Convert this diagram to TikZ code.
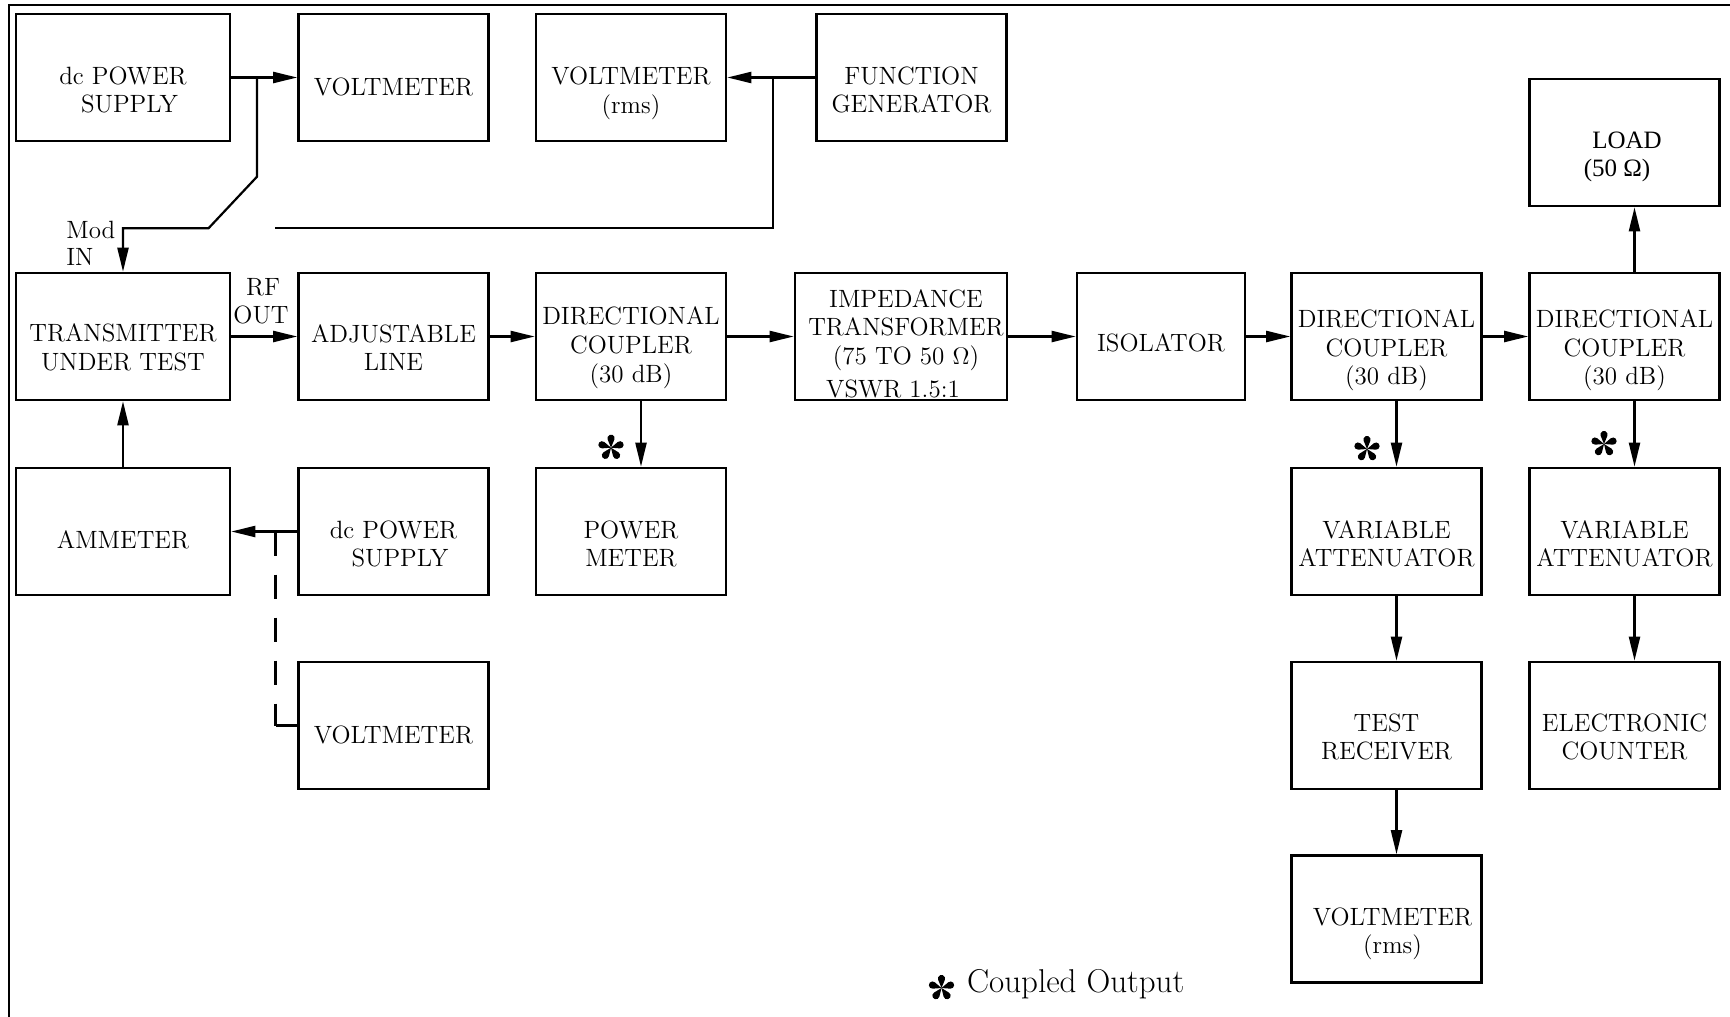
\documentclass[tikz,border=0pt]{standalone}
\usepackage{fontspec}
\newfontfamily\timesfont{Liberation Serif}
\usetikzlibrary{arrows.meta}

\tikzset{
  box/.style={draw, line width=1.3pt, minimum height=63.5pt, minimum width=95pt, inner sep=0pt},
  wide/.style={minimum width=107pt},
  lbl/.style={align=center, inner sep=0pt, font=\fontsize{12.5}{14.3}\selectfont},
  wire/.style={line width=1.1pt},
  arr/.style={wire, -{Triangle[length=12pt,width=5.5pt]}},
  dashwire/.style={wire, dash pattern=on 12pt off 9.5pt},
  frame/.style={line width=1pt},
  % coupled-output mark: five teardrop petals
  cstar/.pic={
    \foreach \a in {90,162,234,306,18}
      \fill[rotate=\a] (0,0) -- (4.07pt,-1.67pt)
        arc[start angle=-112.3, end angle=112.3, radius=1.8pt] -- cycle;
  }
}

\begin{document}
\begin{tikzpicture}[x=0.5pt,y=-0.5pt]
\useasboundingbox (0,0) rectangle (1730,1017);
\draw[frame] (8.7,1017) -- (8.7,5) -- (1730,5);

% ---- top row
\node[box, wide] (ps1) at (123,77.5) {};
\node[lbl] (ps1-t) at ([yshift=-6.25pt]ps1.center) {dc POWER\\\hspace*{6.5pt}SUPPLY};
\node[box] (vm1) at (393.5,77.5) {};
\node[lbl] (vm1-t) at ([yshift=-4.85pt]vm1.center) {VOLTMETER};
\node[box] (vrms) at (631,77.5) {};
\node[lbl] (vrms-t) at ([yshift=-8pt]vrms.center) {VOLTMETER\\(rms)};
\node[box] (fg) at (911.5,77.5) {};
\node[lbl] (fg-t) at ([yshift=-6.25pt]fg.center) {FUNCTION\\GENERATOR};
\node[box] (load) at (1624.5,142.5) {};
\node[lbl, font=\timesfont\fontsize{12.5}{14.3}\selectfont] (load-t) at ([xshift=-2.5pt,yshift=-7.2pt]load.center)
  {\hspace*{7.5pt}LOAD\\(50 Ω)\hspace*{2.5pt}};

% ---- main RF chain
\node[box, wide] (tx) at (123,336.5) {};
\node[lbl] (tx-t) at ([yshift=-5.5pt]tx.center) {TRANSMITTER\\UNDER TEST};
\node[box] (adj) at (393.5,336.5) {};
\node[lbl] (adj-t) at ([yshift=-5.5pt]adj.center) {ADJUSTABLE\\LINE};
\node[box] (dc1) at (631,336.5) {};
\node[lbl] (dc1-t) at ([yshift=-5.6pt]dc1.center) {DIRECTIONAL\\COUPLER\\(30 dB)};
\node[box, minimum width=106pt] (imp) at (901,336.5) {};
\node[lbl] (imp-t) at ([xshift=2.5pt,yshift=-3.5pt]imp.center)
  {IMPEDANCE\\TRANSFORMER\\(75 TO 50~$\Omega$)\\[2pt]VSWR 1.5:1\hspace*{13pt}};
\node[box, minimum width=84pt] (iso) at (1161,336.5) {};
\node[lbl] (iso-t) at ([yshift=-3.3pt]iso.center) {ISOLATOR};
\node[box] (dc2) at (1386.5,336.5) {};
\node[lbl] (dc2-t) at ([yshift=-7pt]dc2.center) {DIRECTIONAL\\COUPLER\\(30 dB)};
\node[box] (dc3) at (1624.5,336.5) {};
\node[lbl] (dc3-t) at ([yshift=-7pt]dc3.center) {DIRECTIONAL\\COUPLER\\(30 dB)};

% ---- third row
\node[box, wide] (amm) at (123,531.5) {};
\node[lbl] (amm-t) at ([yshift=-4pt]amm.center) {AMMETER};
\node[box] (ps2) at (393.5,531.5) {};
\node[lbl] (ps2-t) at ([yshift=-6.25pt]ps2.center) {dc POWER\\\hspace*{6.5pt}SUPPLY};
\node[box] (pm) at (631,531.5) {};
\node[lbl] (pm-t) at ([yshift=-6.25pt]pm.center) {POWER\\METER};
\node[box] (va1) at (1386.5,531.5) {};
\node[lbl] (va1-t) at ([yshift=-6.25pt]va1.center) {VARIABLE\\ATTENUATOR};
\node[box] (va2) at (1624.5,531.5) {};
\node[lbl] (va2-t) at ([yshift=-6.25pt]va2.center) {VARIABLE\\ATTENUATOR};

% ---- fourth and fifth rows
\node[box] (vm2) at (393.5,725.5) {};
\node[lbl] (vm2-t) at ([yshift=-4.6pt]vm2.center) {VOLTMETER};
\node[box] (tr) at (1386.5,725.5) {};
\node[lbl] (tr-t) at ([yshift=-5.75pt]tr.center) {TEST\\RECEIVER};
\node[box] (ec) at (1624.5,725.5) {};
\node[lbl] (ec-t) at ([yshift=-5.75pt]ec.center) {ELECTRONIC\\COUNTER};
\node[box] (vm3) at (1386.5,919) {};
\node[lbl] (vm3-t) at ([xshift=3pt,yshift=-7.5pt]vm3.center) {VOLTMETER\\(rms)};

% ---- port labels
\node[lbl, anchor=base west] (mod) at (66,238) {Mod};
\node[lbl, anchor=base west] (modin) at (66,265.5) {IN};
\node[lbl, anchor=base] (rf) at (263,295) {RF};
\node[lbl, anchor=base] (rfout) at (261,323.5) {OUT};

% ---- modulation path with switch
\draw[arr] (ps1.east) -- (vm1.west);
\coordinate (jm) at (257,77.5);
\coordinate (swa) at (257,176.7);
\coordinate (swb) at (208.5,228.3);
\draw[arr] (jm) -- (swa) -- (swb) -- (swb -| tx.north) -- (tx.north);

\draw[arr] (fg.west) -- (vrms.east);
\coordinate (jf) at (773,77.5);
\coordinate (jfd) at (773,228.3);
\coordinate (swc) at (275,228.3);
\draw[wire] (jf) -- (jfd) -- (swc);

% ---- RF chain
\draw[arr] (tx.east) -- (adj.west);
\draw[arr] (adj.east) -- (dc1.west);
\draw[arr] (dc1.east) -- (imp.west);
\draw[arr] (imp.east) -- (iso.west);
\draw[arr] (iso.east) -- (dc2.west);
\draw[arr] (dc2.east) -- (dc3.west);
\draw[arr] ([xshift=5pt]dc3.north) -- ([xshift=5pt]load.south);

% ---- coupled outputs
\draw[arr] ([xshift=5pt]dc1.south) -- ([xshift=5pt]pm.north);
\draw[arr] ([xshift=5pt]dc2.south) -- ([xshift=5pt]va1.north);
\draw[arr] ([xshift=5pt]dc3.south) -- ([xshift=5pt]va2.north);
\draw[arr] ([xshift=5pt]va1.south) -- ([xshift=5pt]tr.north);
\draw[arr] ([xshift=5pt]tr.south) -- ([xshift=5pt]vm3.north);
\draw[arr] ([xshift=5pt]va2.south) -- ([xshift=5pt]ec.north);
\pic at (611,447.7) {cstar};
\pic at (1367,449) {cstar};
\pic at (1604,444) {cstar};

% ---- supply metering
\draw[arr] (amm.north) -- (tx.south);
\draw[arr] (ps2.west) -- (amm.east);
\coordinate (jp) at (275.5,531.5);
\draw[dashwire] (jp) -- (jp |- vm2.west);
\draw[wire] (jp |- vm2.west) -- (vm2.west);

% ---- legend
\pic at (941.5,988) {cstar};
\node[inner sep=0pt, anchor=base west, font=\fontsize{16.5}{19}\selectfont] (legend) at (966.7,992) {Coupled Output};
\end{tikzpicture}
\end{document}
